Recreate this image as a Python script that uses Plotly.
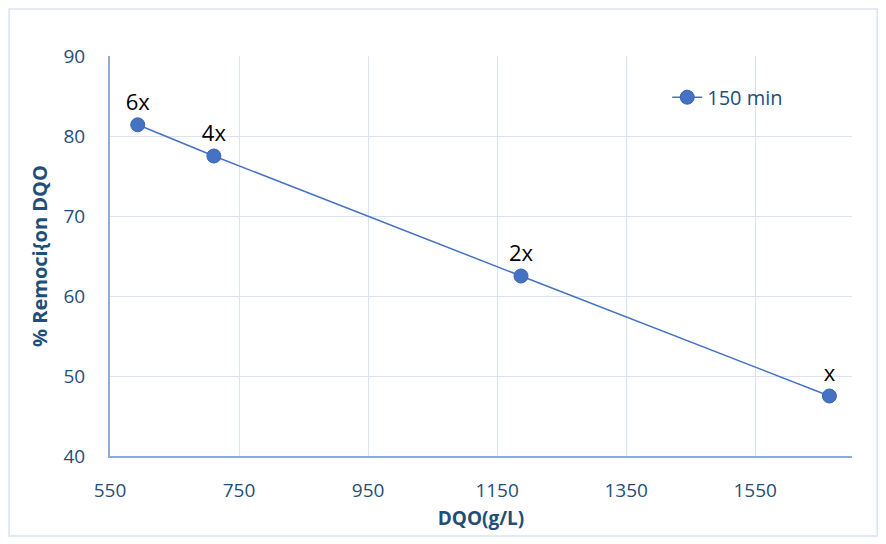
import plotly.graph_objects as go

# DQO concentration (g/L) against % COD removal after 150 min
dqo = [593, 711, 1187, 1665]
remocion = [81.4, 77.5, 62.5, 47.5]
etiquetas = ["6x", "4x", "2x", "x"]
serie = "150 min"

x_ticks = [550, 750, 950, 1150, 1350, 1550]
y_ticks = [40, 50, 60, 70, 80, 90]

azul = "#4472C4"
texto = "#1F4E79"
rejilla = "#DAE3F3"
eje = "#8FAADC"
fuente = "Open Sans"

fig = go.Figure()
fig.add_trace(go.Scatter(
    x=dqo, y=remocion, name=serie,
    mode="lines+markers+text",
    text=etiquetas,
    textposition="top center",
    textfont=dict(family=fuente, size=22, color="#000000"),
    line=dict(color=azul, width=1.5),
    marker=dict(color=azul, size=14, line=dict(color="#3A64AD", width=1)),
))

fig.update_layout(
    width=886, height=544,
    margin=dict(l=110, r=34, t=56, b=88),
    paper_bgcolor="white", plot_bgcolor="white",
    font=dict(family=fuente, color=texto, size=19),
    showlegend=True,
    legend=dict(x=0.751, y=0.897, xanchor="left", yanchor="middle",
                bgcolor="rgba(0,0,0,0)",
                font=dict(family=fuente, size=20, color=texto)),
    xaxis=dict(
        range=[550, 1700], tickvals=x_ticks,
        showgrid=True, gridcolor=rejilla, gridwidth=1,
        showline=True, linecolor=eje, linewidth=2,
        zeroline=False, ticks="", ticklen=0,
        ticklabelstandoff=16,
        tickfont=dict(family=fuente, size=19, color=texto),
        title=dict(text="<b>DQO(g/L)</b>", standoff=10,
                   font=dict(family=fuente, size=19, color=texto)),
    ),
    yaxis=dict(
        range=[40, 90], tickvals=y_ticks,
        showgrid=True, gridcolor=rejilla, gridwidth=1,
        showline=True, linecolor=eje, linewidth=2,
        zeroline=False, ticks="", ticklen=0,
        ticklabelstandoff=19,
        tickfont=dict(family=fuente, size=19, color=texto),
        title=dict(text="<b>% Remoci{on DQO</b>", standoff=10,
                   font=dict(family=fuente, size=20, color=texto)),
    ),
    shapes=[dict(
        type="rect", xref="paper", yref="paper",
        x0=-0.136, x1=1.034, y0=-0.2, y1=1.1175,
        line=dict(color=rejilla, width=1.5), layer="below",
    )],
)

fig.write_html("out.html")
